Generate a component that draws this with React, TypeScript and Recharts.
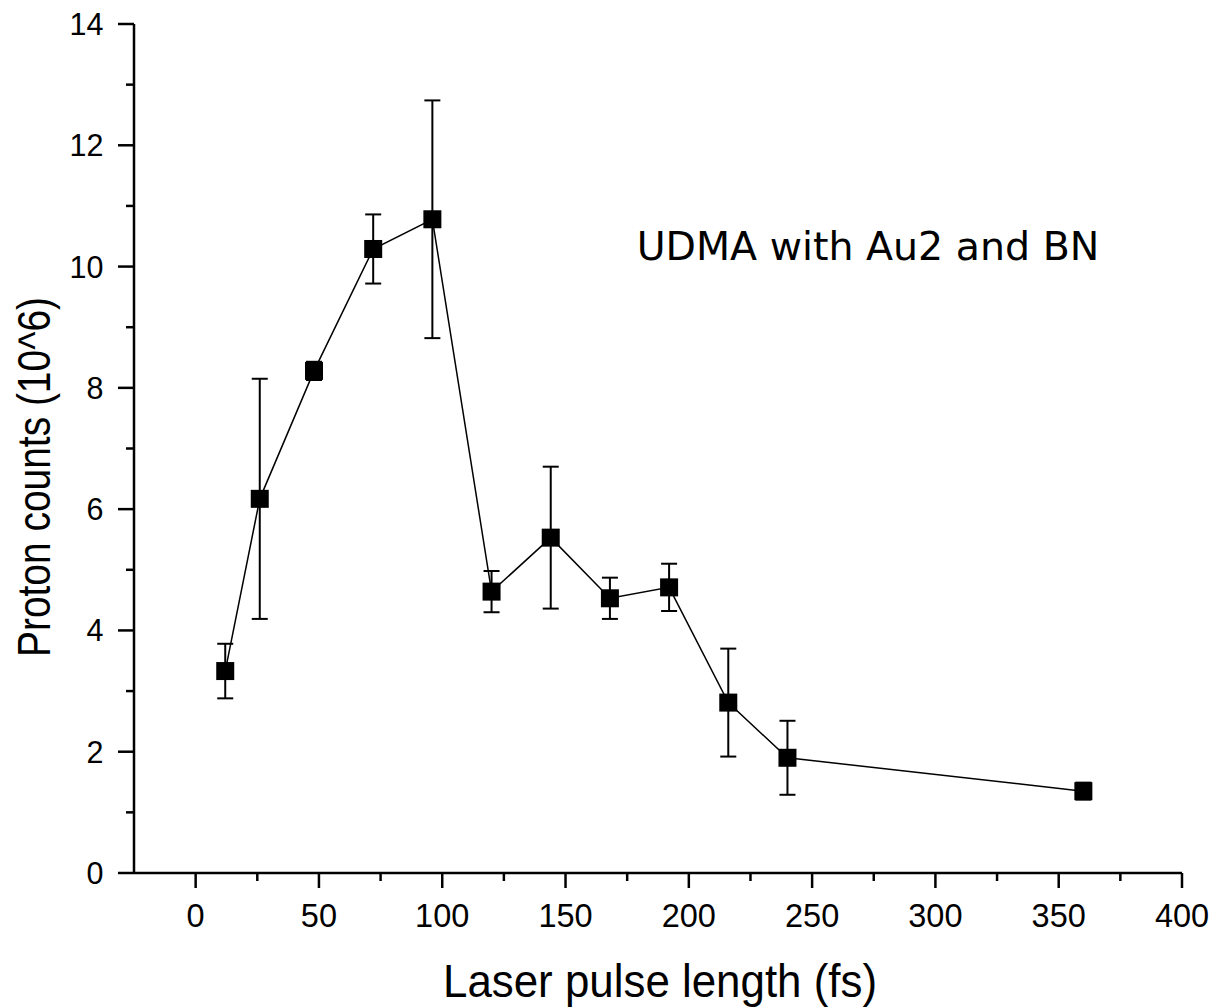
import React from 'react';
import { LineChart, Line, XAxis, YAxis, ErrorBar, Customized } from 'recharts';

// Laser pulse length (fs) and measured proton counts (10^6) with their error
const pulseLength = [12, 26, 48, 72, 96, 120, 144, 168, 192, 216, 240, 360];
const protonCounts = [3.33, 6.17, 8.28, 10.29, 10.78, 4.64, 5.53, 4.53, 4.71, 2.81, 1.9, 1.35];
const countError = [0.45, 1.98, 0.15, 0.57, 1.96, 0.34, 1.17, 0.34, 0.39, 0.89, 0.61, 0.14];

const xMajorTicks = [0, 50, 100, 150, 200, 250, 300, 350, 400];
const xMinorTicks = [25, 75, 125, 175, 225, 275, 325, 375];
const yMajorTicks = [0, 2, 4, 6, 8, 10, 12, 14];
const yMinorTicks = [1, 3, 5, 7, 9, 11, 13];

const data = pulseLength.map((x, i) => ({
  x,
  counts: protonCounts[i],
  err: countError[i],
}));

const AXIS_FONT = '"Liberation Sans", Arial, Helvetica, sans-serif';

const XTick = (props: any) => {
  const { x, y, payload } = props;
  const major = xMajorTicks.includes(payload.value);
  return (
    <g>
      <line x1={x} x2={x} y1={y} y2={y + (major ? 15 : 8)} stroke="#000" strokeWidth={2.5} />
      {major && (
        <text x={x} y={y + 53.5} textAnchor="middle" fontSize={32.5} fontFamily={AXIS_FONT} fill="#000">
          {payload.value}
        </text>
      )}
    </g>
  );
};

const YTick = (props: any) => {
  const { x, y, payload } = props;
  const major = yMajorTicks.includes(payload.value);
  return (
    <g>
      <line x1={x - (major ? 16 : 8)} x2={x} y1={y} y2={y} stroke="#000" strokeWidth={2.5} />
      {major && (
        <text x={x - 30.5} y={y + 11} textAnchor="end" fontSize={30.5} fontFamily={AXIS_FONT} fill="#000">
          {payload.value}
        </text>
      )}
    </g>
  );
};

const SquareDot = (props: any) => {
  const { cx, cy, index } = props;
  if (cx == null || cy == null) return null;
  return <rect key={`sq-${index}`} x={cx - 9} y={cy - 9} width={18} height={18} fill="#000" />;
};

const Titles = () => (
  <g fill="#000">
    <text
      x={660}
      y={996.5}
      textAnchor="middle"
      fontSize={47}
      fontFamily={AXIS_FONT}
      textLength={434}
      lengthAdjust="spacingAndGlyphs"
    >
      Laser pulse length (fs)
    </text>
    <text
      transform="translate(50, 477) rotate(-90)"
      textAnchor="middle"
      fontSize={47}
      fontFamily={AXIS_FONT}
      textLength={360}
      lengthAdjust="spacingAndGlyphs"
    >
      Proton counts (10^6)
    </text>
    <text x={636.7} y={260} fontSize={39.5} fontFamily='"DejaVu Sans", sans-serif'>
      UDMA with Au2 and BN
    </text>
  </g>
);

export default function App() {
  return (
    <div style={{ position: 'absolute', left: 0, top: 0, background: '#fff' }}>
      <LineChart width={1217} height={1007} data={data} margin={{ top: 24, right: 35, bottom: 0, left: 0 }}>
        <XAxis
          dataKey="x"
          type="number"
          domain={[-25, 400]}
          ticks={[...xMajorTicks, ...xMinorTicks].sort((a, b) => a - b)}
          interval={0}
          tickSize={0}
          tickMargin={0}
          tickLine={false}
          axisLine={{ stroke: '#000', strokeWidth: 2.5 }}
          tick={<XTick />}
          height={134}
        />
        <YAxis
          type="number"
          domain={[0, 14]}
          ticks={[...yMajorTicks, ...yMinorTicks].sort((a, b) => a - b)}
          interval={0}
          tickSize={0}
          tickMargin={0}
          tickLine={false}
          axisLine={{ stroke: '#000', strokeWidth: 2.5 }}
          tick={<YTick />}
          width={134}
        />
        <Line
          dataKey="counts"
          type="linear"
          stroke="#000"
          strokeWidth={1.5}
          dot={(p: any) => <SquareDot key={`d-${p.index}`} {...p} />}
          activeDot={false}
          isAnimationActive={false}
        >
          <ErrorBar dataKey="err" direction="y" width={8} stroke="#000" strokeWidth={2} />
        </Line>
        <Customized component={Titles} />
      </LineChart>
    </div>
  );
}
